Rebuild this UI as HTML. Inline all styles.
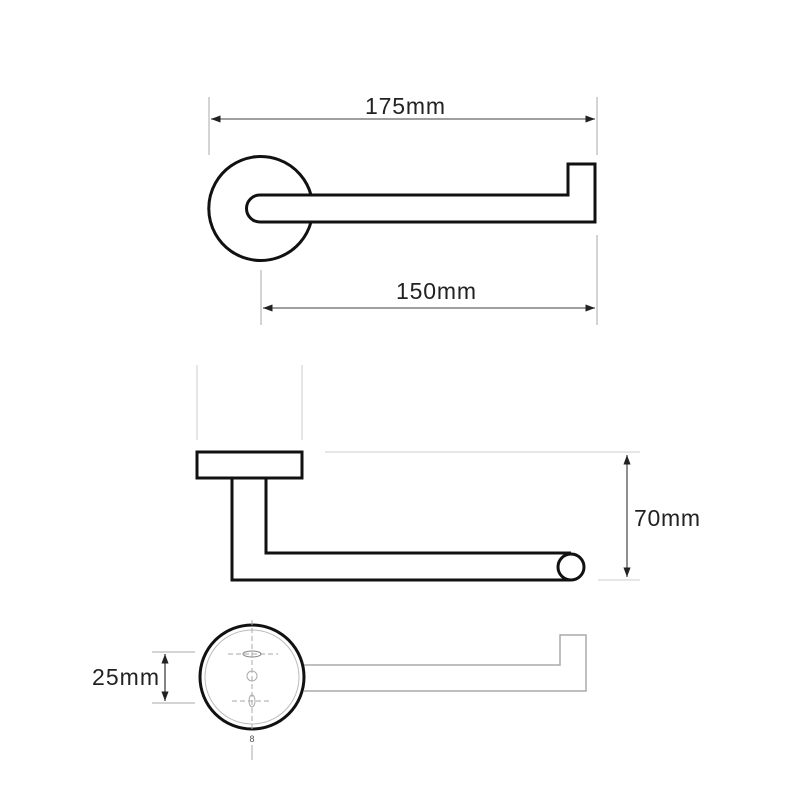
<!DOCTYPE html>
<html><head><style>body{margin:0;background:#fff}</style></head><body>
<svg width="800" height="800" xmlns="http://www.w3.org/2000/svg" font-family="Liberation Sans, sans-serif">
<defs><marker id="a" markerWidth="8" markerHeight="6" refX="8" refY="3" orient="auto-start-reverse"><path d="M0,0 L8,3 L0,6z" fill="#222"/></marker></defs>
<!-- top view -->
<g stroke="#aaa" stroke-width="1" fill="none">
<line x1="209" y1="97" x2="209" y2="155"/><line x1="597" y1="97" x2="597" y2="155"/>
<line x1="597" y1="235" x2="597" y2="325"/><line x1="261" y1="270" x2="261" y2="325"/>
</g>
<g stroke="#666" stroke-width="1.2"><line x1="211" y1="119" x2="595" y2="119" marker-start="url(#a)" marker-end="url(#a)"/>
<line x1="263" y1="308" x2="595" y2="308" marker-start="url(#a)" marker-end="url(#a)"/></g>
<text x="405" y="114" font-size="23" text-anchor="middle" fill="#222" textLength="80">175mm</text>
<text x="436" y="299" font-size="23" text-anchor="middle" fill="#222" textLength="80">150mm</text>
<g stroke="#111" stroke-width="3" fill="none">
<path d="M311,195 A52,52 0 1 0 311,222"/>
<path d="M311,195 L568,195 L568,164 L595,164 L595,222 L260,222 A13.5,13.5 0 0 1 260,195 L311,195"/>
</g>
<!-- side view -->
<g stroke="#ccc" stroke-width="1"><line x1="197" y1="365" x2="197" y2="440"/><line x1="302" y1="365" x2="302" y2="440"/>
<line x1="325" y1="452" x2="640" y2="452"/><line x1="598" y1="580" x2="640" y2="580"/></g>
<line x1="627" y1="455" x2="627" y2="577" stroke="#444" stroke-width="1.2" marker-start="url(#a)" marker-end="url(#a)"/>
<text x="634" y="526" font-size="23" fill="#222" textLength="66">70mm</text>
<g stroke="#111" stroke-width="3" fill="#fff">
<rect x="197" y="452" width="105" height="26"/>
<path d="M232,478 L232,580 L571,580 M266,478 L266,553 L571,553" fill="none"/>
<circle cx="571" cy="567" r="13"/>
</g>
<!-- bottom view -->
<path d="M304,665 L560,665 L560,635 L586,635 L586,691 L304,691" stroke="#aaa" stroke-width="1.5" fill="none"/>
<circle cx="252" cy="677" r="52" stroke="#111" stroke-width="3" fill="none"/>
<circle cx="252" cy="677" r="47" stroke="#bbb" stroke-width="1" fill="none"/>
<g stroke="#aaa" stroke-width="1" fill="none">
<line x1="252" y1="620" x2="252" y2="730" stroke-dasharray="5,3"/>
<line x1="228" y1="654" x2="278" y2="654" stroke-dasharray="5,3"/>
<line x1="232" y1="701" x2="272" y2="701" stroke-dasharray="5,3"/>
<ellipse cx="252" cy="654" rx="9" ry="3" stroke="#888"/>
<circle cx="252" cy="676" r="5"/>
<ellipse cx="252" cy="701" rx="3" ry="6"/>
<line x1="152" y1="652" x2="195" y2="652"/><line x1="152" y1="703" x2="195" y2="703"/>
<line x1="252" y1="745" x2="252" y2="760"/>
</g>
<line x1="165" y1="654" x2="165" y2="701" stroke="#333" stroke-width="1.2" marker-start="url(#a)" marker-end="url(#a)"/>
<text x="92" y="685" font-size="23" fill="#222" textLength="67">25mm</text>
<text x="252" y="742" font-size="9" text-anchor="middle" fill="#555">8</text>
</svg>
</body></html>
